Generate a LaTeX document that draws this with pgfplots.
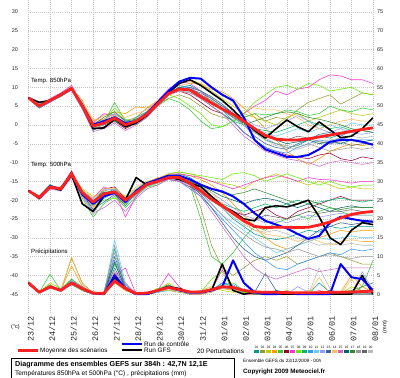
\documentclass[border=0pt]{standalone}
\usepackage{fontspec}
\setmainfont{Liberation Sans}
\newfontfamily\monof{Liberation Mono}
\usepackage{pgfplots}
\usepackage{pgfplotstable}
\pgfplotsset{compat=1.18}

\definecolor{c01}{HTML}{009999}
\definecolor{c02}{HTML}{999933}
\definecolor{c03}{HTML}{BBCC00}
\definecolor{c04}{HTML}{FF9900}
\definecolor{c05}{HTML}{33CC33}
\definecolor{c06}{HTML}{990033}
\definecolor{c07}{HTML}{FF33CC}
\definecolor{c08}{HTML}{66EE00}
\definecolor{c09}{HTML}{00BB66}
\definecolor{c10}{HTML}{3399FF}
\definecolor{c11}{HTML}{66CCFF}
\definecolor{c12}{HTML}{9999FF}
\definecolor{c13}{HTML}{336699}
\definecolor{c14}{HTML}{FFBB55}
\definecolor{c15}{HTML}{CC66CC}
\definecolor{c16}{HTML}{006666}
\definecolor{c17}{HTML}{338833}
\definecolor{c18}{HTML}{999999}
\definecolor{c19}{HTML}{666666}
\definecolor{c20}{HTML}{BBBBBB}
\definecolor{mred}{HTML}{FF2020}
\definecolor{cblue}{HTML}{0000FF}

\newcommand{\fs}[1]{\fontsize{#1}{#1}\selectfont}

% Temperature 850 hPa (degC), 12 h steps
\pgfplotstableread{
name c0 c1 c2 c3 c4 c5 c6 c7 c8 c9 c10 c11 c12 c13 c14 c15 c16 c17 c18 c19 c20 c21 c22 c23 c24 c25 c26 c27 c28 c29 c30 c31 c32
d 0 0.5 1 1.5 2 2.5 3 3.5 4 4.5 5 5.5 6 6.5 7 7.5 8 8.5 9 9.5 10 10.5 11 11.5 12 12.5 13 13.5 14 14.5 15 15.5 16
mean 7.2 5 6.5 8 9.7 5 -0.3 0.5 1.8 0 1 2.8 5.5 8.3 9.5 9.3 7.5 5.8 4.2 2.8 1 -1 -2.8 -3.8 -4 -4 -3.7 -3.2 -2.7 -2.2 -1.7 -1.2 -0.8
ctl 7.2 5 6.5 8 9.7 5.2 0 1 2 0.5 1 3 6 9 11.5 12.5 12.3 10 8 6.5 2 -4 -6.5 -7.5 -8.5 -8.5 -8 -6.5 -4.5 -4 -4 -4.5 -5.3
gfs 7.2 6 6.5 8 9.7 5 -1 -0.8 1.5 -0.5 0.5 2.5 5.5 8.5 11 12 10.5 8.5 6.5 4 1 -1.5 -3.5 -1 1.3 -0.5 -1.8 0.8 -1.3 -3.4 -3 -1 1.9
p01 7.2 5.5 6.8 8.2 9.5 5.5 0 1 2 0.5 0.5 3 6 8 10 10.5 9 7 5 3 0 -2 -4 -5 -6 -5.5 -4 -3 -3.5 -2.5 -2 -1.5 -2
p02 7.1 4.8 6.3 7.8 9.9 6.5 0.5 1.5 3 1 2 4.5 5.5 7 8 7 5 3 2 1.5 2 3 1 2 1.5 4 6 7 8 5.5 7 8.5 8
p03 7.3 5.2 6.6 8.3 10.2 5 -1 0 1.5 -0.5 1 3 6.5 9 11 12 11 9 7 5 3 2 1 0 2 3 1 2 3 4 3 2.5 3
p04 7.2 5 6.9 8 9.6 6 1 2.5 3.5 3 4.8 4.5 6.5 9 11 11.5 10.5 9.5 8.8 7 4.5 2 -1 -4 -7 -9 -10.5 -9 -7 -6 -5 -5.5 -5
p05 7 4.5 6.2 7.5 9.5 4.5 -0.8 0.5 6 1 0 2 5 7 6 4 1 -1 -0.5 1 2 3 2.7 3 4 3.5 2.5 3 5 4 3.5 4.5 4
p06 7.2 5.3 6.5 8.1 9.8 5.2 -1.2 -0.5 1 -1 0.5 2.5 5.5 8 9 8 6 4 3 1 -2 -4 -6 -7 -8 -8.5 -9 -8 -7.5 -9 -9.5 -8.5 -9
p07 7.3 5.1 7 8.5 10.5 5.5 0.5 3 2.5 0 1.5 3.5 6.5 9.5 11.5 11 9 6 4 2 3 5 6.5 9 8 9.5 10 12 13.3 13 12 12 11
p08 7.1 4.7 6.4 7.9 9.4 4.8 -0.5 1 4.5 1.5 1 3 5 8 7 5 3 0 -0.5 1 3 6 8 10 10.5 9.5 11 10.5 9 9.5 10 8.5 8
p09 7.2 5.4 6.7 8.4 9.7 5.3 0 0 1 -0.5 2 3.5 6 8.5 10 9 7 5 3 1 0 -1 -1.5 -2 -1 0 1 0 -1 -0.5 -1.5 -1 -1
p10 7 4.4 6 7.6 9.2 4.2 -1.5 0.5 2.5 0.5 0.5 2.5 5.8 9 10.5 10 8 6 4 1 -2 -4 -6 -7 -7.5 -6 -5 -4 -4.5 -3.5 -4 -4 -4
p11 7.2 5.6 6.6 8.1 10 5.8 0.3 1 1.5 0.5 1.5 3.2 5.5 8 9 9 8 6 5 3 1 -1 -2 -3 -2 -1 -2 -1 0 -1 0.5 0 0
p12 7.2 5 6.3 8 9.6 5 -0.5 1.5 3 1.5 0 2.5 6 8.5 10 10 9 7 5 3.5 2 0 -1 0 1 2.5 1 -1 -2 -1 -2 -2.5 -2
p13 7.3 4.9 6.5 7.7 9.5 5.6 0.2 0 2 -0.5 1 3 5.5 8 9.5 10 9 7.5 5.5 3 0 -3 -5 -6 -6.5 -5 -4 -2.5 -2 -3 -1.5 -1 -1
p14 7.2 5.2 6.8 8.2 10.1 6.2 1.5 1.5 2.5 2 3 4 6.5 9 10.5 11 11 10 8 6 4.5 4.5 4 4 3 2 0 -1 0 1 1.5 1 1
p15 7 4.6 6.1 7.8 9.3 4.3 -1.8 -1 0.5 -1.5 0 2 5 8 9 8.5 7 5 3 0 -3 -5 -7 -8 -9 -9.5 -10 -11 -10 -9.5 -10 -10.5 -10
p16 7.2 5.3 6.6 8.3 9.9 5.1 -0.6 0.8 1.5 0 1 3 6 8.5 10 9.5 8 6 4 2 0.5 -1 -3 -4 -5 -4.5 -4 -5 -4.5 -5 -4 -4.5 -4
p17 7.1 5 6.4 8 9.7 5.4 0 2 3.5 1 1.5 2.5 5.5 8 9.5 9.5 8 6.5 4.5 2 0 1 2 3 3.5 3 2 1.5 0.8 0 -1 -1.5 -2
p18 7.2 5.5 6.7 8.2 9.6 4.9 -1 0 1.8 -0.8 0.5 2.5 5 8 9 8.5 7.5 6 4 2 0 -2 -3.5 -5 -5.5 -6 -5 -6 -7 -6.5 -6 -6.5 -6
p19 7.2 4.8 6.5 7.9 9.8 5.2 -0.3 0.6 2 0 1.2 3 5.8 8.5 9.5 9.5 8.5 7 5 3 1 -1 -2.5 -3.5 -4 -3 -3.5 -4.5 -5 -4.5 -5.5 -5 -5
p20 7.3 5.1 6.3 8.1 9.5 4.7 -0.8 0.4 1.2 0.2 0.8 2.8 5.3 8 9 9 8 6 4.5 2.5 0 -2 -4 -5.5 -6 -6.5 -5.5 -4.5 -4 -3.5 -3 -3.5 -3
}\srcA

% Temperature 500 hPa (degC)
\pgfplotstableread{
name c0 c1 c2 c3 c4 c5 c6 c7 c8 c9 c10 c11 c12 c13 c14 c15 c16 c17 c18 c19 c20 c21 c22 c23 c24 c25 c26 c27 c28 c29 c30 c31 c32
d 0 0.5 1 1.5 2 2.5 3 3.5 4 4.5 5 5.5 6 6.5 7 7.5 8 8.5 9 9.5 10 10.5 11 11.5 12 12.5 13 13.5 14 14.5 15 15.5 16
mean -17.5 -19.3 -16.5 -17 -13 -18 -20.5 -18.3 -17.8 -20 -18 -15.8 -15 -14 -14 -15.5 -17.5 -19.8 -21.5 -23.5 -25.5 -27 -27.3 -27.2 -27.2 -27.3 -27.2 -26.6 -25.8 -24.7 -23.8 -23.3 -23
ctl -17.5 -19.3 -16.3 -17 -13 -18.5 -21 -19 -18 -20.5 -17.5 -15.5 -14.5 -13.5 -13.5 -14.5 -15.9 -17 -17.7 -19 -21 -23.5 -25.5 -26.5 -27.5 -29 -30.3 -29.5 -26 -24.4 -25 -25.5 -25.7
gfs -17.5 -19.5 -16.5 -17.3 -13.3 -21 -23 -19 -18 -20 -14 -16 -14.5 -14 -14.5 -15.5 -16.4 -19 -21.5 -23 -25 -25.5 -22 -21.5 -21.8 -21 -20 -24.4 -30 -31.8 -28 -26 -26.5
p01 -17.5 -19 -16 -17.2 -13.5 -17.5 -20 -18.5 -17 -19.5 -17.5 -15.5 -14.5 -13.5 -13 -14 -16 -19 -22 -25 -27 -29 -30 -30.5 -30 -29 -28 -28.5 -27 -27.5 -27 -27 -27
p02 -17.3 -19.5 -16.8 -16.5 -12.5 -18.5 -21 -17.5 -17 -20.5 -18.5 -16 -15.5 -14 -14.5 -15 -22 -32 -38 -40 -38 -36 -35 -36 -35 -37 -36 -35 -34 -35 -36 -37 -37
p03 -17.6 -19.2 -16.3 -17.5 -13.2 -17 -19 -18 -18 -19 -17 -15 -14.5 -13 -12.5 -13 -14 -15 -15.5 -16 -17 -15 -14 -13 -14 -15 -16 -15 -16 -17 -16.5 -17 -17
p04 -17.5 -19.8 -17 -16.8 -12.8 -18.8 -22 -19 -18.5 -21 -17.5 -15.5 -14 -13.5 -13 -13.5 -14.5 -16 -18 -21 -24 -27 -30 -32 -33 -32 -31 -30 -29 -28 -28.5 -28 -28
p05 -17.4 -18.8 -15.8 -17.3 -13.8 -19.5 -24.5 -21 -19 -22 -19 -16.5 -16 -14 -14.5 -16 -25 -35 -37 -34 -30 -27 -28 -26 -25 -24 -25 -23 -22 -23 -24 -24 -24
p06 -17.5 -19.4 -16.6 -16.9 -12.2 -18.2 -20.8 -17 -16.5 -19.5 -18 -16 -15 -14.5 -15 -16.5 -18 -20 -22 -23 -24 -23 -22 -24 -25 -23 -22 -21 -20 -19 -20 -20 -20
p07 -17.6 -19 -16.2 -17.1 -13 -17.8 -19.5 -16.5 -17.5 -24.5 -19 -15.5 -14.5 -13 -13 -13.5 -14 -15 -16 -17 -16 -15 -14 -13.5 -14 -15 -14 -14.5 -14.6 -15 -15.5 -15 -15
p08 -17.5 -19.6 -16.9 -17.4 -13.5 -18.3 -21.5 -20 -19.5 -21 -18.5 -16.5 -15.5 -13 -12.5 -13 -13.5 -14 -14.5 -13 -12.7 -13.5 -15 -14 -13 -14 -15 -16 -15 -16 -16.5 -16 -16
p09 -17.4 -19.1 -16.4 -16.7 -12.9 -17.7 -20.2 -17.8 -18 -20.2 -17.7 -15.2 -15 -14 -14 -15 -17 -19 -21 -22 -23 -22 -21 -22 -21 -20 -21 -20.5 -20 -19.5 -20 -20.5 -20
p10 -17.5 -19.7 -16.7 -17.6 -13.6 -18.6 -23 -19.5 -18 -20.8 -18.3 -16.2 -15.3 -14.5 -15 -17 -19 -22 -25 -28 -31 -34 -36 -38 -38.5 -37 -36 -35 -34 -34.5 -33 -33.5 -33
p11 -17.6 -19.3 -16.5 -16.6 -12.6 -17.6 -20 -17.2 -17.2 -19.8 -17.2 -15.3 -14.8 -14 -14.5 -16 -18 -21 -24 -26 -28 -30 -32 -34 -33 -32 -31 -30 -30.5 -30 -29.5 -30 -30
p12 -17.5 -18.9 -16.1 -17 -13.1 -18.1 -21 -18.5 -18.5 -20.5 -18.8 -16.3 -15.5 -13.5 -14 -15 -16.5 -18 -20 -22 -24 -25 -26 -25.5 -26 -25 -24 -24.5 -24 -23.5 -24 -24 -24
p13 -17.4 -19.5 -16.8 -17.2 -13.4 -18.4 -22.5 -20.5 -18.5 -21.5 -18 -15.8 -15.2 -14 -14.5 -16 -18.5 -22 -26 -30 -33 -35 -36 -35 -34 -32 -30 -28 -27 -26 -26.5 -26 -26
p14 -17.5 -19.2 -16.3 -16.8 -12.7 -17.3 -19.5 -17 -16.8 -19 -16.5 -15 -14.2 -13 -13.5 -14.5 -16 -18 -21 -24 -26 -28 -29 -29.5 -30 -31 -30 -31 -32 -31 -30.5 -31 -31
p15 -17.6 -19.8 -17.1 -17.5 -14 -19 -23.5 -22 -20 -23 -19.5 -17 -16 -14.5 -15 -16.5 -19 -23 -27 -31 -35 -38 -40 -41 -40 -39 -38 -39 -38.5 -38 -38 -38 -38
p16 -17.5 -19.1 -16.4 -17.1 -13 -18 -20.5 -18 -17.6 -19.8 -17.8 -15.6 -14.9 -13.5 -14 -15 -16 -17.5 -19 -20 -21 -20 -19.5 -20 -21 -22 -21 -22 -23 -22 -21.5 -22 -22
p17 -17.4 -19.4 -16.6 -16.8 -12.9 -17.9 -20.3 -18.2 -18.2 -20.2 -18.2 -16 -15 -14 -14 -15 -16 -17 -18 -18.5 -18 -17 -18 -19 -20 -21 -20 -21 -22 -22.5 -22 -22 -22
p18 -17.5 -19.5 -16.7 -17.3 -13.3 -18.3 -21.5 -18.8 -17.9 -20.5 -18.5 -16.1 -15.4 -14 -14.5 -16 -18 -21 -24 -27 -29 -31 -32.5 -33 -34 -33 -34 -35 -34.5 -35 -35.5 -35 -35
p19 -17.6 -19.2 -16.5 -16.9 -13.1 -17.9 -20.7 -18.4 -17.7 -20.1 -18.1 -15.7 -15 -13.5 -14 -15.5 -17.5 -20 -22 -23.5 -25 -25.5 -24 -24.5 -25 -24 -23 -23.5 -23 -23 -22.5 -23 -23
p20 -17.5 -19.3 -16.4 -17.2 -13.2 -18.2 -24 -19 -17.5 -20.3 -18.2 -15.9 -15.1 -14 -14.5 -15.5 -17 -19.5 -22 -24.5 -26.5 -28 -28.5 -28 -29 -30 -31 -32 -31.5 -32 -31.5 -32 -32
}\srcB

% Precipitation (mm), right axis
\pgfplotstableread{
name c0 c1 c2 c3 c4 c5 c6 c7 c8 c9 c10 c11 c12 c13 c14 c15 c16 c17 c18 c19 c20 c21 c22 c23 c24 c25 c26 c27 c28 c29 c30 c31 c32
d 0 0.5 1 1.5 2 2.5 3 3.5 4 4.5 5 5.5 6 6.5 7 7.5 8 8.5 9 9.5 10 10.5 11 11.5 12 12.5 13 13.5 14 14.5 15 15.5 16
mean 3 0.5 2 1 3 1.5 0.3 0.2 3.5 1.5 0.2 0.3 1 1.8 1.2 0.6 0.6 1.2 2 1.8 1 0.6 0.5 0.5 0.4 0.4 0.4 0.4 0.5 0.5 0.6 0.7 0.8
ctl 3 0.5 2 1 3 1.5 0.3 0 5 1.5 0 0 1 2 1 0.5 0.5 1 2 9 3 0.5 0 0 0.5 0 0 0 0 8 4.5 4 1
gfs 3 0.5 2 1 3 1.5 0.3 0 4.5 1.5 0 0 1 2 1.5 0.5 0.5 1 8 1 0 0.5 0 0 0 0 0 0 0 0 0 5 0
p01 3 0.4 2.5 1 3.5 1 0.2 0 5 1 0 0 0.5 2 1 0 0.5 1 3 2 0.5 0 0 1 0.5 0 0 3 0.5 0 0 1 0.5
p02 3.5 0.5 2 1 9.5 3 0.3 0.5 6 1.5 0 0 1.5 1 0.5 0 0 0.5 2 1 0.5 0 0 0 0 0.5 0 0 1 0 0 0.5 0
p03 3 0.5 3 1.5 4 2 0.5 0 3 1 0 0 1 3 1 0.5 1 2 1 0.5 1 0 0.5 0 0 0 1 0 0 0 2 1 1
p04 2.5 0.5 1.5 1 7.5 2 0 0 4 1 0 0.5 0.5 1.5 1 0 0 1 1.5 1 0 0 0 0 1 0 0 0 0 0.5 5 2 0.5
p05 3 0.5 5.3 1 2.5 1 0 0 8 2 0 0 0.5 1 1.5 0.5 0 1 2.5 3 1 0 0 0 0 0 0 0 0 0.5 1 2 9
p06 3 0.5 2 1 3 1 0 0 5.5 1.5 0 0 1 2 1 0.5 0.5 1.5 2 1.5 1 0.5 0 0 0 0 0 0 0 0 0 0 0
p07 3 0.5 2 1 2.5 1.5 0 0 5 7 0 0 1 5.5 2 0 0 1 6.5 2 0 0 0 0 0 0 0 1 0 0 0 0.5 0
p08 3 0.5 2.5 1 3 1 0.5 0 4 1.5 0 0 1.5 2.5 1 0.5 0.5 4 6 1 0.5 0 0 0.5 0 0 0 0 0 0 0 0 0
p09 3 0.5 2 1 4 1.5 0.5 0.5 12 2 0 0 1 1 1 0.5 0.5 1 2 1.5 1 0 0 0 0 0 0 0 0 0 0 0 0
p10 3 0.5 1.5 1.5 3.5 2 0 0 9 2.5 0 0 0.5 2 1 0 0.5 1 3 2.5 1 0 0 0 0 0 0 0.5 0 0 0 0 0
p11 3 0.5 2 1 3 1.5 0.2 0 14.5 3 0 0.5 0.5 1 1 0.5 0.5 1 2 2 1 0 0 0 0 0 0 0 0 0 0 0 0
p12 3 0.5 2 1 3.5 1.5 0.3 0 11 2 0 0 1 1.5 1 0.5 1 1 2 1.5 1 1 0 0 0 2 0.5 0 0 0 0 6 1
p13 3 0.5 2 1 3 1.5 0 0 7 1.5 0 0 1 2 1.5 0.5 0.5 1 2 2 1 0.5 5.5 1 0 0 0 0 1 0 0 0 0
p14 3 0.5 2 1 10 2.5 0.5 0 3 1 0 0 1 1 1 0.5 0.5 1 2 1 1 0 0 0 0 0 0 4.5 0 0 4 0 0
p15 3 0.5 2 1 3 1.5 0.3 0.5 6 3 0 0 1 2 1 0.5 0.5 1 2 1.5 1 0.5 0 0 0 0 0 0 0 0 0 0 0
p16 3 0.5 2 1 3 1.5 0.3 0 8.5 1.5 0 0 1 2 1 0.5 0.5 1.5 2 1.5 1 0 0 0 0 0 0 0 0 0 0 0 0
p17 3 0.5 2 1 3 1.5 0.2 0 4 1.5 0 0 1 2.5 1 0.5 0.5 1 2 1.5 1 0 0 0 0 0 0 0 0 0 0 2 3
p18 3 0.5 2 1 3 1.5 0.3 0 13 2 0 0 1 1.5 1 0.5 0.5 1 1.5 1.5 1 0 0 0 0 0 0 0 0 0 0 0 0
p19 3 0.5 2 1 3 1.5 0.3 0 10 2 0 0 1 1.5 1 0.5 0.5 1 2 1.5 1 0 0 0 0 0 0 0 0 0 0 0 0
p20 3 0.5 2 1 3 1.5 0.3 0 6 1.5 0 0 1 1.5 1 0.5 0.5 1 2 2 1 0.5 0 0 0 0 0 7 1.5 0 0 0 0
}\srcC

\pgfplotstabletranspose[colnames from=name]{\tA}{\srcA}
\pgfplotstabletranspose[colnames from=name]{\tB}{\srcB}
\pgfplotstabletranspose[colnames from=name]{\tC}{\srcC}

\begin{document}
\begin{tikzpicture}
\useasboundingbox (0,0) rectangle (400bp,378bp);
\begin{axis}[
  at={(28.5bp,65bp)}, anchor=south west,
  scale only axis, width=344.5bp, height=313bp,
  xmin=0, xmax=16, ymin=-50, ymax=33.2,
  xtick={0,...,16},
  xticklabels={23/12,24/12,25/12,26/12,27/12,28/12,29/12,30/12,31/12,01/01,02/01,03/01,04/01,05/01,06/01,07/01,08/01},
  ytick={-45,-40,...,30},
  grid=major,
  major grid style={gray!45, dash pattern=on 1bp off 1bp, line width=0.4bp},
  axis line style={draw=none},
  major tick length=0pt,
  /pgf/number format/assume math mode=true,
  yticklabel style={font=\fs{5.5}, text=black!85, xshift=-7bp},
  xticklabel style={font=\monof\fs{8.5}, rotate=90, anchor=east, text=black!85, yshift=-2bp},
  no markers,
  every axis plot/.append style={line join=round},
]
% perturbations
\pgfplotsinvokeforeach{01,02,03,04,05,06,07,08,09,10,11,12,13,14,15,16,17,18,19,20}{
  \addplot[color=c#1, line width=0.55bp] table[x=d, y=p#1] {\tA};
  \addplot[color=c#1, line width=0.55bp] table[x=d, y=p#1] {\tB};
  \addplot[color=c#1, line width=0.55bp] table[x=d, y expr=\thisrow{p#1}-45] {\tC};
}
% GFS run
\addplot[black, line width=1.6bp] table[x=d, y=gfs] {\tA};
\addplot[black, line width=1.6bp] table[x=d, y=gfs] {\tB};
\addplot[black, line width=1.6bp] table[x=d, y expr=\thisrow{gfs}-45] {\tC};
% control run
\addplot[cblue, line width=2bp] table[x=d, y=ctl] {\tA};
\addplot[cblue, line width=2bp] table[x=d, y=ctl] {\tB};
\addplot[cblue, line width=2bp] table[x=d, y expr=\thisrow{ctl}-45] {\tC};
% mean
\addplot[mred, line width=2.8bp] table[x=d, y=mean] {\tA};
\addplot[mred, line width=2.8bp] table[x=d, y=mean] {\tB};
\addplot[mred, line width=2.8bp] table[x=d, y expr=\thisrow{mean}-45] {\tC};
\end{axis}
% right axis (mm)
\begin{axis}[
  at={(28.5bp,65bp)}, anchor=south west,
  scale only axis, width=344.5bp, height=313bp,
  xmin=0, xmax=16, ymin=-5, ymax=78.2,
  axis x line=none, axis y line*=right,
  axis line style={draw=none},
  major tick length=0pt,
  ytick={0,5,...,75},
  /pgf/number format/assume math mode=true,
  yticklabel style={font=\fs{5.5}, text=black!85, xshift=0.5bp},
]
\addplot[draw=none] coordinates {(0,0)};
\end{axis}

% labels inside the plot
\node[anchor=west, font=\fs{6.1}, inner sep=0] at (31bp,297bp) {Temp. 850hPa};
\node[anchor=west, font=\fs{6.1}, inner sep=0] at (31bp,213bp) {Temp. 500hPa};
\node[anchor=west, font=\fs{6.1}, inner sep=0] at (31bp,126bp) {Précipitations};

% units
\node[anchor=west, font=\fs{5.5}, inner sep=0] at (11bp,51bp) {(°c)};
\node[rotate=90, font=\fs{5.5}, inner sep=0] at (385bp,51bp) {(mm)};

% legend
\draw[mred, line width=3bp] (18bp,27bp) -- (38bp,27bp);
\node[anchor=west, font=\fs{6.4}, inner sep=0] at (40bp,27bp) {Moyenne des scénarios};
\draw[cblue, line width=2.5bp] (122bp,34bp) -- (142bp,34bp);
\node[anchor=west, font=\fs{6.4}, inner sep=0] at (144bp,34bp) {Run de contrôle};
\draw[black, line width=2.5bp] (122bp,28bp) -- (142bp,28bp);
\node[anchor=west, font=\fs{6.4}, inner sep=0] at (144bp,28bp) {Run GFS};
\node[anchor=west, font=\fs{6.4}, inner sep=0] at (197bp,27bp) {20 Perturbations};
\foreach \i [count=\k from 0] in {01,02,03,04,05,06,07,08,09,10,11,12,13,14,15,16,17,18,19,20} {
  \fill[c\i] (254bp+\k*6bp,24.5bp) rectangle ++(5.2bp,3.5bp);
  \node[font=\fs{3.3}, inner sep=0] at (256.6bp+\k*6bp,30.5bp) {\i};
}

% bottom boxes
\draw[line width=0.8bp] (11bp,-2bp) rectangle (234bp,20bp);
\node[anchor=west, font=\bfseries\fs{7.2}, inner sep=0] at (15bp,13bp) {Diagramme des ensembles GEFS sur 384h : 42,7N 12,1E};
\node[anchor=west, font=\fs{6.6}, inner sep=0] at (15bp,4bp) {Températures 850hPa et 500hPa (°C) , précipitations (mm)};
\node[anchor=west, font=\fs{4.7}, inner sep=0] at (243bp,17bp) {Ensemble GEFS du 23/12/2009 - 00h};
\node[anchor=west, font=\bfseries\fs{6.3}, inner sep=0] at (243bp,6bp) {Copyright 2009 Meteociel.fr};
\end{tikzpicture}
\end{document}
